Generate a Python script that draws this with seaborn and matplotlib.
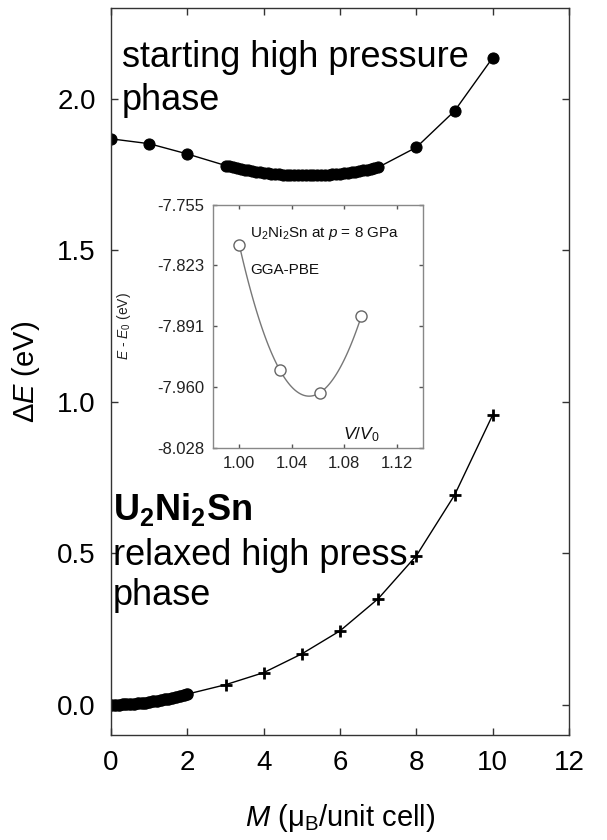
import numpy as np
import pandas as pd
import matplotlib
matplotlib.use("Agg")
import matplotlib.pyplot as plt
import seaborn as sns

# ── Data ──────────────────────────────────────────────
# starting high pressure phase (filled circles)
M_top = [0, 1, 2,
         3.0, 3.1, 3.2, 3.3, 3.4, 3.5, 3.6, 3.7, 3.8, 3.9,
         4.0, 4.1, 4.2, 4.3, 4.4, 4.5, 4.6, 4.7, 4.8, 4.9,
         5.0, 5.1, 5.2, 5.3, 5.4, 5.5, 5.6, 5.7, 5.8, 5.9,
         6.0, 6.1, 6.2, 6.3, 6.4, 6.5, 6.6, 6.7, 6.8, 6.9, 7.0,
         8, 9, 10]
E_top = [1.868, 1.852, 1.818,
         1.780, 1.777, 1.774, 1.771, 1.769, 1.766, 1.764, 1.762, 1.760, 1.758,
         1.756, 1.755, 1.753, 1.752, 1.751, 1.750, 1.749, 1.748, 1.748, 1.747,
         1.747, 1.747, 1.747, 1.747, 1.748, 1.748, 1.749, 1.750, 1.751, 1.752,
         1.753, 1.755, 1.756, 1.758, 1.760, 1.762, 1.764, 1.766, 1.769, 1.771, 1.774,
         1.840, 1.960, 2.136]

# relaxed high pressure phase: dense part (filled) + crosses
M_dense = [0.0, 0.1, 0.2, 0.3, 0.4, 0.5, 0.6, 0.7, 0.8, 0.9, 1.0,
           1.1, 1.2, 1.3, 1.4, 1.5, 1.6, 1.7, 1.8, 1.9, 2.0]
E_dense = [0.000, 0.0001, 0.0004, 0.0008, 0.0014, 0.0022, 0.0032, 0.0043, 0.0056, 0.0071, 0.0088,
           0.0106, 0.0127, 0.0149, 0.0172, 0.0198, 0.0225, 0.0254, 0.0285, 0.0318, 0.035]
M_cross = [3, 4, 5, 6, 7, 8, 9, 10]
E_cross = [0.066, 0.106, 0.168, 0.244, 0.350, 0.492, 0.692, 0.957]

# inset: E - E0 vs V/V0
v_ratio = [1.000, 1.031, 1.0615, 1.093]
e_vol = [-7.800, -7.941, -7.966, -7.880]
inset_yticks = [-7.755, -7.823, -7.891, -7.960, -8.028]
inset_xticks = [1.00, 1.04, 1.08, 1.12]

# ── Style ─────────────────────────────────────────────
sns.set_style('ticks')
plt.rcParams['font.family'] = ['Liberation Sans', 'DejaVu Sans']
plt.rcParams['text.color'] = 'black'
plt.rcParams['axes.labelcolor'] = 'black'
plt.rcParams['xtick.color'] = 'black'
plt.rcParams['ytick.color'] = 'black'
plt.rcParams['mathtext.fontset'] = 'custom'
plt.rcParams['mathtext.rm'] = 'Liberation Sans'
plt.rcParams['mathtext.it'] = 'Liberation Sans:italic'
plt.rcParams['mathtext.bf'] = 'Liberation Sans:bold'

fig = plt.figure(figsize=(6.07, 8.40), dpi=100)
ax = fig.add_axes([0.183, 0.125, 0.7545, 0.8655])

df_top = pd.DataFrame({'M': M_top, 'E': E_top})
df_lo = pd.DataFrame({'M': M_dense + M_cross, 'E': E_dense + E_cross})

sns.lineplot(data=df_top, x='M', y='E', color='k', lw=1, marker='o',
             markersize=8, markeredgecolor='k', ax=ax)
sns.lineplot(data=df_lo, x='M', y='E', color='k', lw=1, ax=ax)
ax.plot(M_dense, E_dense, 'o', color='k', markersize=8, markeredgecolor='k')
ax.plot(M_cross, E_cross, '+', color='k', markersize=8, markeredgewidth=2)

ax.set_xlim(0, 12)
ax.set_ylim(-0.1, 2.3)
ax.set_xticks([0, 2, 4, 6, 8, 10, 12])
ax.set_yticks([0.0, 0.5, 1.0, 1.5, 2.0])
ax.set_yticklabels(['0.0', '0.5', '1.0', '1.5', '2.0'])
ax.tick_params(direction='in', length=5, width=1, labelsize=20, pad=11,
               top=True, right=True, color='#333333')
for s in ax.spines.values():
    s.set_color('#333333')
    s.set_linewidth(1)

ax.set_xlabel('$M$ (μ$_\\mathrm{B}$/unit cell)', fontsize=21)
ax.set_ylabel('Δ$E$ (eV)', fontsize=21)
ax.xaxis.set_label_coords(0.5, -0.092)
ax.yaxis.set_label_coords(-0.15, 0.5)

ax.text(0.29, 2.104, 'starting high pressure', fontsize=26)
ax.text(0.29, 1.962, 'phase', fontsize=26)
ax.text(0.05, 0.610, r'$\mathbf{U_2Ni_2Sn}$', fontsize=26)
ax.text(0.05, 0.461, 'relaxed high press.', fontsize=26)
ax.text(0.05, 0.329, 'phase', fontsize=26)

# ── Inset ─────────────────────────────────────────────
ins = fig.add_axes([0.351, 0.467, 0.346, 0.289])
sns.regplot(x=v_ratio, y=e_vol, order=3, ci=None, truncate=True, scatter=False,
            line_kws=dict(color='#777777', lw=1), ax=ins)
ins.plot(v_ratio, e_vol, 'o', markersize=8, markerfacecolor='white',
         markeredgecolor='#666666', markeredgewidth=1)
ins.set_xlim(0.98, 1.14)
ins.set_ylim(-8.028, -7.755)
ins.set_xticks(inset_xticks)
ins.set_xticklabels(['%.2f' % t for t in inset_xticks])
ins.set_yticks(inset_yticks)
ins.set_yticklabels(['%.3f' % t for t in inset_yticks])
ins.tick_params(direction='in', length=3, width=1, labelsize=12, pad=6,
                top=True, right=True, color='#555555', labelcolor='#222222')
for s in ins.spines.values():
    s.set_color('#888888')
    s.set_linewidth(1)
ins.set_xlabel('')
ins.set_ylabel('$E$ - $E_0$ (eV)', fontsize=10, color='#222222')
ins.yaxis.set_label_coords(-0.38, 0.5)

ins.text(0.176, 0.885, 'U$_2$Ni$_2$Sn at $p$ = 8 GPa', transform=ins.transAxes,
         fontsize=11, va='center', color='#111111')
ins.text(0.176, 0.733, 'GGA-PBE', transform=ins.transAxes,
         fontsize=11, va='center', color='#111111')
ins.text(0.62, 0.015, '$V$/$V_0$', transform=ins.transAxes,
         fontsize=12.5, va='bottom', color='#111111')

fig.savefig('out.png', dpi=100)
